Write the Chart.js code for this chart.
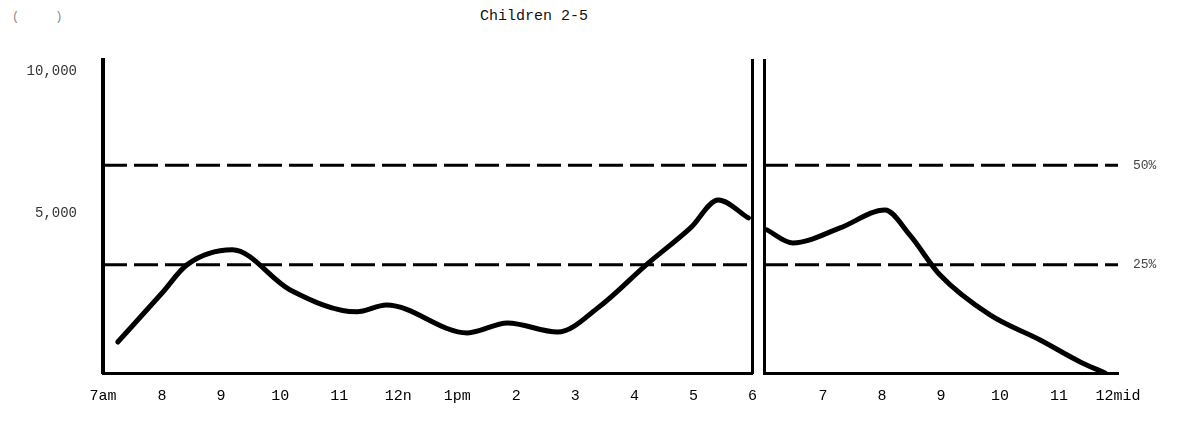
<!DOCTYPE html>
<html>
<head>
<meta charset="utf-8">
<script src="https://cdn.jsdelivr.net/npm/chart.js@4.4.0/dist/chart.umd.min.js"></script>
<style>
    body {margin: 0; background: #fff; width: 1181px; height: 448px; position: relative; overflow: hidden; font-family: "Liberation Mono", monospace;}
    .box {position: absolute; top: 0; height: 448px;}
    #left-box {left: 0; width: 771px;}
    #right-box {left: 754px; width: 427px;}
    .note {position: absolute; color: #111; font-size: 15px; white-space: pre;}
</style>
</head>
<body>
<div class="note" style="left:480px;top:8px">Children 2-5</div>
<div class="note" style="left:12px;top:10px;color:#888;font-size:12px">(     )</div>
<div class="box" id="left-box"><canvas id="left-chart"></canvas></div>
<div class="box" id="right-box"><canvas id="right-chart"></canvas></div>
<script>
// daytime panel (7am - 6pm)
const leftHours = [7, 8, 9, 10, 11, 12, 13, 14, 15, 16, 17, 18];
const leftHourLabels = ['7am', '8', '9', '10', '11', '12n', '1pm', '2', '3', '4', '5', '6'];
const leftCurveHours = [7.25, 8.0, 8.42, 9.19, 10.17, 11.3, 11.8, 13.17, 13.85, 14.7, 15.4, 16.2, 16.95, 17.42, 17.93];
const leftCurveValues = [490, 2210, 3200, 3730, 2320, 1550, 1790, 810, 1160, 840, 1720, 3200, 4500, 5480, 4850];

// evening panel (6pm - midnight)
const rightHours = [19, 20, 21, 22, 23, 24];
const rightHourLabels = ['7', '8', '9', '10', '11', '12mid'];
const rightCurveHours = [18.05, 18.49, 19.29, 20.05, 20.47, 20.98, 21.83, 22.68, 23.36, 23.78];
const rightCurveValues = [4430, 3970, 4500, 5130, 4250, 2850, 1440, 560, -210, -600];

const yTicks = [5000, 10000];
const pctValues = [6700, 3200];
const pctLabels = ['50%', '25%'];

const yMin = -600;
const yMax = 10400;
const ink = '#000';
const tickFont = {family: '"Liberation Mono", monospace', size: 15};

function toPoints(xs, ys) {
    return xs.map((x, i) => ({x: x, y: ys[i]}));
}

function curveDataset(xs, ys) {
    return {
        data: toPoints(xs, ys),
        borderColor: ink,
        borderWidth: 5,
        pointRadius: 0,
        cubicInterpolationMode: 'monotone',
        borderCapStyle: 'round'
    };
}

function pctDatasets(from, to) {
    return pctValues.map(v => ({
        data: [{x: from, y: v}, {x: to, y: v}],
        borderColor: ink,
        borderWidth: 3,
        borderDash: [24, 7],
        pointRadius: 0
    }));
}

function xScale(min, max, hours, labels) {
    return {
        type: 'linear',
        min: min,
        max: max,
        afterBuildTicks: s => { s.ticks = hours.map(v => ({value: v})); },
        afterFit: s => { s.height = 75; },
        ticks: {
            callback: (v, i) => labels[i],
            padding: 14,
            autoSkip: false,
            maxRotation: 0,
            color: ink,
            font: tickFont
        },
        grid: {display: false, drawTicks: false},
        border: {color: ink, width: 3}
    };
}

const leftChart = new Chart(document.getElementById('left-chart'), {
    type: 'line',
    data: {
        datasets: [curveDataset(leftCurveHours, leftCurveValues)].concat(pctDatasets(7, 18))
    },
    options: {
        responsive: true,
        maintainAspectRatio: false,
        animation: false,
        layout: {padding: {top: 60, left: 0, right: 0, bottom: 0}},
        plugins: {legend: {display: false}, tooltip: {enabled: false}},
        scales: {
            x: xScale(7, 18, leftHours, leftHourLabels),
            y: {
                min: yMin,
                max: yMax,
                afterBuildTicks: s => { s.ticks = yTicks.map(v => ({value: v})); },
                afterFit: s => { s.width = 103; },
                ticks: {
                    callback: v => v.toLocaleString('en-US'),
                    padding: 26,
                    color: '#333',
                    font: {family: '"Liberation Mono", monospace', size: 14}
                },
                grid: {display: false, drawTicks: false},
                border: {color: ink, width: 4}
            },
            y2: {
                position: 'right',
                min: yMin,
                max: yMax,
                afterFit: s => { s.width = 10; },
                ticks: {display: false},
                grid: {display: false, drawTicks: false},
                border: {color: ink, width: 3}
            }
        }
    }
});

const rightChart = new Chart(document.getElementById('right-chart'), {
    type: 'line',
    data: {
        datasets: [curveDataset(rightCurveHours, rightCurveValues)].concat(pctDatasets(18, 24))
    },
    options: {
        responsive: true,
        maintainAspectRatio: false,
        animation: false,
        layout: {padding: {top: 60, left: 0, right: 0, bottom: 0}},
        plugins: {legend: {display: false}, tooltip: {enabled: false}},
        scales: {
            x: xScale(18, 24, rightHours, rightHourLabels),
            y: {
                min: yMin,
                max: yMax,
                afterFit: s => { s.width = 10; },
                ticks: {display: false},
                grid: {display: false, drawTicks: false},
                border: {color: ink, width: 3}
            },
            y2: {
                position: 'right',
                min: yMin,
                max: yMax,
                afterBuildTicks: s => { s.ticks = pctValues.map(v => ({value: v})); },
                afterFit: s => { s.width = 63; },
                ticks: {
                    callback: (v, i) => pctLabels[i],
                    padding: 15,
                    color: '#444',
                    font: {family: '"Liberation Mono", monospace', size: 13}
                },
                grid: {display: false, drawTicks: false},
                border: {display: false}
            }
        }
    }
});
</script>
</body>
</html>
